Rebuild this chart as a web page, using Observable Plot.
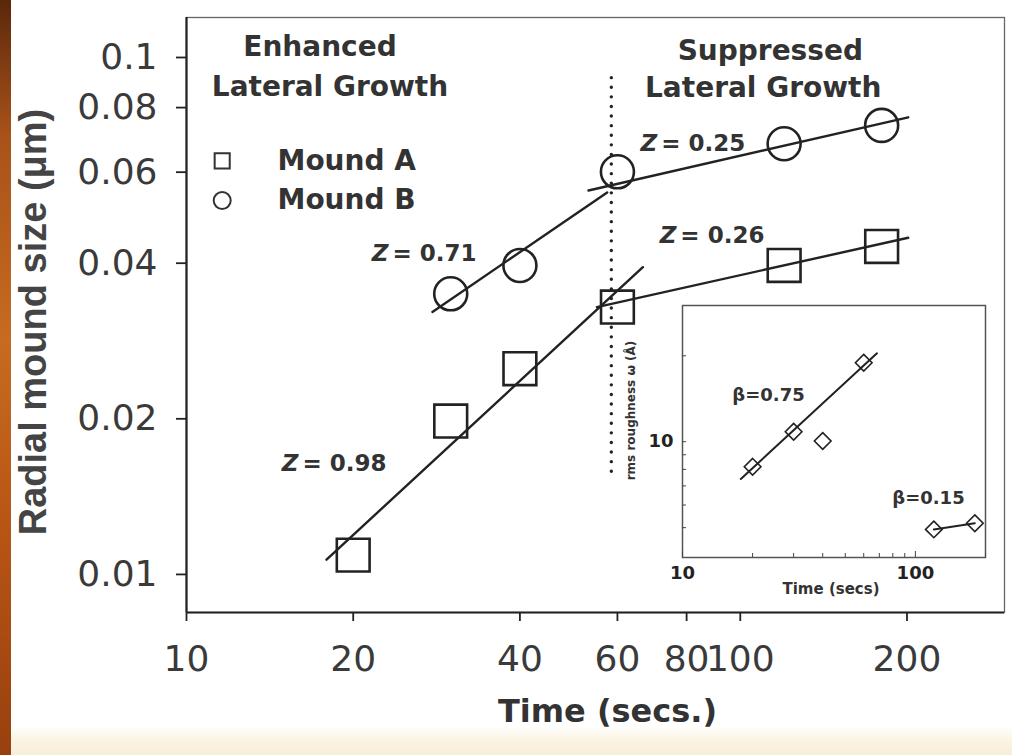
<!DOCTYPE html>
<html><head><meta charset="utf-8">
<script src="https://cdn.jsdelivr.net/npm/d3@7"></script>
<script src="https://cdn.jsdelivr.net/npm/@observablehq/plot@0.6"></script>
<style>
html,body{margin:0;padding:0;background:#fff;}
#wrap{position:relative;width:1012px;height:755px;overflow:hidden;background:linear-gradient(to bottom,#ffffff 0,#ffffff 726px,#fbf4e3 740px,#f7eed8 755px);}
#strip{position:absolute;left:0;top:0;width:11px;height:755px;background:linear-gradient(to bottom,#5a280b 0%,#a9521a 18%,#c66b20 45%,#b85515 70%,#98400f 100%);}
#main{position:absolute;left:0;top:0;}
#inset{position:absolute;left:615px;top:295px;}
</style></head><body>
<div id="wrap"><div id="strip"></div><div id="main"></div><div id="inset"></div></div>
<script>
// ---------- data ----------
const xTicks = [10, 20, 40, 60, 80, 100, 200];
const yTicks = [0.01, 0.02, 0.04, 0.06, 0.08, 0.1];

const timeA = [20, 30, 40, 60, 120, 180];
const sizeA = [0.0109, 0.0198, 0.0250, 0.0329, 0.0396, 0.0431];
const timeB = [30, 40, 60, 120, 180];
const sizeB = [0.0349, 0.0396, 0.0601, 0.0681, 0.0739];

// power-law fit segments (end points)
const fitTimeA1 = [17.9, 66.7],  fitSizeA1 = [0.01068, 0.0393];   // Z = 0.98
const fitTimeA2 = [55.1, 201],   fitSizeA2 = [0.0329, 0.0448];    // Z = 0.26
const fitTimeB1 = [27.8, 57.5],  fitSizeB1 = [0.0322, 0.0548];    // Z = 0.71
const fitTimeB2 = [53.2, 201],   fitSizeB2 = [0.0553, 0.0766];    // Z = 0.25

const boundaryTime = 58.5;
const boundarySize = [0.0158, 0.095];

const zValues = ["0.71", "0.25", "0.26", "0.98"];
const zTime   = [23.35, 71.4, 77.3, 16.06];
const zSize   = [0.0418, 0.0682, 0.0453, 0.0164];

const regionText = ["Enhanced", "Lateral Growth", "Suppressed", "Lateral Growth"];
const regionTime = [17.42, 18.16, 113.3, 110.0];
const regionSize = [0.1050, 0.0875, 0.1031, 0.0871];

const legendNames   = ["Mound A", "Mound B"];
const legendSymbols = ["square", "circle"];
const legendSymTime = 11.6, legendTextTime = 14.6;
const legendSize    = [0.0631, 0.0529];

// inset
const insetTime  = [20, 30, 40, 60, 120, 180];
const insetRough = [8.17, 10.84, 10.06, 18.91, 4.93, 5.18];
const insetFitTime75 = [17.8, 68.4], insetFitRough75 = [7.40, 20.4];
const insetFitTime15 = [120, 180],   insetFitRough15 = [4.93, 5.18];
const betaText  = ["\u03b2=0.75", "\u03b2=0.15"];
const betaTime  = [23.4, 113.8];
const betaRough = [14.6, 6.35];
const insetXMinor = [20, 30, 40, 50, 60, 70, 80, 90, 200];
const insetYMinor = [5, 6, 7, 8, 9, 20];

// ---------- tables ----------
const A = timeA.map((t, i) => ({t, s: sizeA[i]}));
const B = timeB.map((t, i) => ({t, s: sizeB[i]}));
const seg = (ts, ss) => ts.map((t, i) => ({t, s: ss[i]}));
const Z = zValues.map((z, i) => ({z, t: zTime[i], s: zSize[i]}));
const R = regionText.map((text, i) => ({text, t: regionTime[i], s: regionSize[i]}));
const L = legendNames.map((name, i) => ({name, symbol: legendSymbols[i], s: legendSize[i]}));
const I = insetTime.map((t, i) => ({t, r: insetRough[i]}));
const Bt = betaText.map((text, i) => ({text, t: betaTime[i], r: betaRough[i]}));

const ink = "#222";
const xDomain = [10, 300];
const yDomain = [0.00844, 0.1195];
const lineOpts = {x: "t", y: "s", stroke: ink, strokeWidth: 2.4};

const main = Plot.plot({
  width: 1012, height: 755,
  marginLeft: 186, marginRight: 8, marginTop: 17, marginBottom: 143,
  style: {background: "transparent", fontFamily: "DejaVu Sans", color: ink, overflow: "visible"},
  x: {type: "log", domain: xDomain},
  y: {type: "log", domain: yDomain},
  marks: [
    Plot.frame({stroke: "#666", strokeWidth: 1.3}),
    Plot.axisX({ticks: xTicks, tickSize: 9, tickPadding: 24, fontSize: 36, tickFormat: d => String(d), label: null, fill: "#3a3a3a", stroke: ink, strokeWidth: 1.8}),
    Plot.axisY({ticks: yTicks, tickSize: 10, tickPadding: 19, fontSize: 36, tickFormat: d => String(d), label: null, fill: "#3a3a3a", stroke: ink, strokeWidth: 1.8}),
    Plot.ruleX([xDomain[0]], {stroke: ink, strokeWidth: 2.2}),
    Plot.ruleY([yDomain[0]], {stroke: ink, strokeWidth: 2.2}),
    Plot.text(["Time (secs.)"], {frameAnchor: "bottom", text: d => d, textAnchor: "middle", lineAnchor: "middle", dx: 12, dy: 99, fontSize: 32, fontWeight: "bold", fill: "#333"}),
    Plot.text(["Radial mound size (\u03bcm)"], {frameAnchor: "left", text: d => d, textAnchor: "middle", lineAnchor: "middle", rotate: -90, dx: -153, dy: 7, fontSize: 38, fontWeight: "bold", fontFamily: "Liberation Sans", fill: "#444"}),
    // boundary
    Plot.ruleX([boundaryTime], {y1: boundarySize[0], y2: boundarySize[1], stroke: ink, strokeWidth: 3.4, strokeDasharray: "0,9.6", strokeLinecap: "round"}),
    // fits
    Plot.line(seg(fitTimeA1, fitSizeA1), lineOpts),
    Plot.line(seg(fitTimeA2, fitSizeA2), lineOpts),
    Plot.line(seg(fitTimeB1, fitSizeB1), lineOpts),
    Plot.line(seg(fitTimeB2, fitSizeB2), lineOpts),
    // data
    Plot.dot(A, {x: "t", y: "s", symbol: "square", r: 18.5, stroke: ink, strokeWidth: 2.6, fill: "none"}),
    Plot.dot(B, {x: "t", y: "s", symbol: "circle", r: 16.5, stroke: ink, strokeWidth: 2.6, fill: "none"}),
    // region labels
    Plot.text(R, {x: "t", y: "s", text: "text", fontSize: 28, fontWeight: "bold", fill: "#333"}),
    // Z labels
    Plot.text(Z, {x: "t", y: "s", text: () => "Z", textAnchor: "end", dx: -2, fontSize: 23, fontWeight: "bold", fontStyle: "italic", fill: "#333"}),
    Plot.text(Z, {x: "t", y: "s", text: d => "= " + d.z, textAnchor: "start", dx: 2, fontSize: 23, fontWeight: "bold", fill: "#333"}),
    // legend
    Plot.dot(L, {x: () => legendSymTime, y: "s", symbol: "symbol", r: 8.5, stroke: "#333", strokeWidth: 2, fill: "none"}),
    Plot.text(L, {x: () => legendTextTime, y: "s", text: "name", textAnchor: "start", fontSize: 28, fontWeight: "bold", fill: "#333"})
  ]
});
document.getElementById("main").appendChild(main);

const inset = Plot.plot({
  width: 380, height: 310,
  marginLeft: 67, marginRight: 10, marginTop: 10, marginBottom: 48,
  style: {background: "transparent", fontFamily: "DejaVu Sans", color: ink, overflow: "visible"},
  x: {type: "log", domain: [10, 200]},
  y: {type: "log", domain: [3.93, 30]},
  marks: [
    Plot.frame({stroke: "#555", strokeWidth: 1.5}),
    Plot.axisX({ticks: insetXMinor, tickSize: -4, tickFormat: () => "", label: null, stroke: "#444"}),
    Plot.axisX({ticks: [10, 100], tickSize: -6, tickPadding: 15, fontSize: 18, fontWeight: "bold", tickFormat: d => String(d), label: null, fill: "#222", stroke: "#444"}),
    Plot.axisY({ticks: insetYMinor, tickSize: -4, tickFormat: () => "", label: null, stroke: "#444"}),
    Plot.axisY({ticks: [10], tickSize: -4, tickPadding: 13, fontSize: 18, fontWeight: "bold", tickFormat: d => String(d), label: null, fill: "#222", stroke: "#444"}),
    Plot.text(["Time (secs)"], {frameAnchor: "bottom", text: d => d, textAnchor: "middle", lineAnchor: "middle", dx: -3, dy: 32, fontSize: 15, fontWeight: "bold", fill: "#333"}),
    Plot.text(["rms roughness \u03c9 (\u00c5)"], {frameAnchor: "left", text: d => d, textAnchor: "middle", lineAnchor: "middle", rotate: -90, dx: -51, dy: -21, fontSize: 12, fontWeight: "bold", fill: "#333"}),
    Plot.line(seg(insetFitTime75, insetFitRough75).map(d => ({t: d.t, r: d.s})), {x: "t", y: "r", stroke: ink, strokeWidth: 2}),
    Plot.line(seg(insetFitTime15, insetFitRough15).map(d => ({t: d.t, r: d.s})), {x: "t", y: "r", stroke: ink, strokeWidth: 2}),
    Plot.dot(I, {x: "t", y: "r", symbol: "diamond2", r: 7.5, stroke: ink, strokeWidth: 1.6, fill: "none"}),
    Plot.text(Bt, {x: "t", y: "r", text: "text", fontSize: 18, fontWeight: "bold", fill: "#333"})
  ]
});
document.getElementById("inset").appendChild(inset);
</script>
</body></html>
